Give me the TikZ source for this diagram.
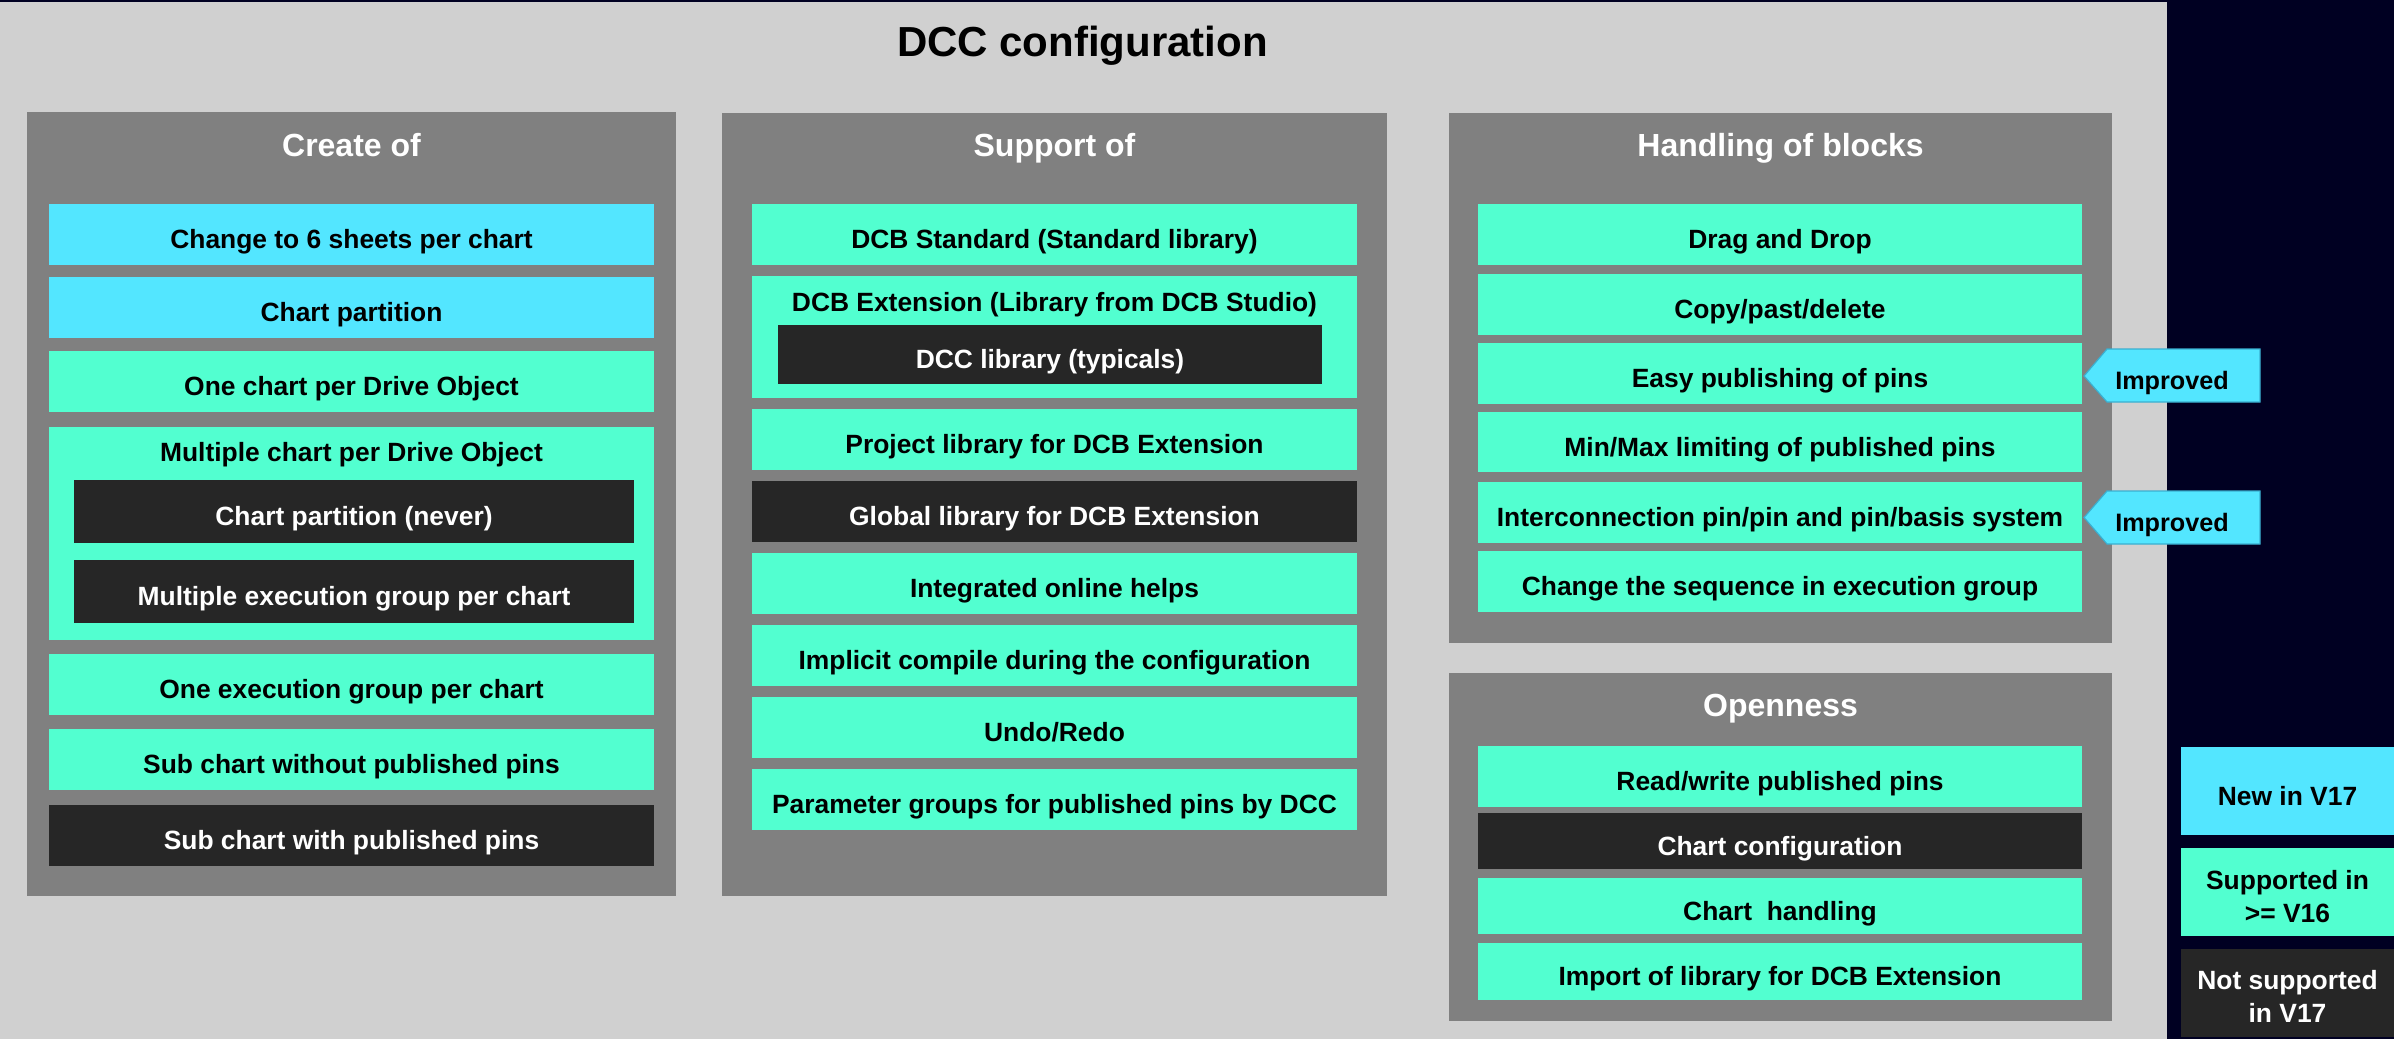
\documentclass[tikz,border=0pt]{standalone}
\usepackage{fontspec}
\setmainfont{Liberation Sans}
\definecolor{bgnavy}{RGB}{0,0,34}
\definecolor{bglight}{RGB}{208,208,208}
\definecolor{panelgray}{RGB}{128,128,128}
\definecolor{newcyan}{RGB}{83,230,255}
\definecolor{tagedge}{RGB}{58,175,208}
\definecolor{suppmint}{RGB}{82,255,208}
\definecolor{notdark}{RGB}{38,38,38}
\tikzset{
  itemfont/.style={font=\bfseries\fontsize{13.2}{16.25}\selectfont},
  box/.style={rectangle, draw=none, inner sep=0pt, outer sep=0pt, itemfont, text height=14pt, text depth=0pt},
  newbox/.style={box, fill=newcyan, text=black},
  suppbox/.style={box, fill=suppmint, text=black},
  notbox/.style={box, fill=notdark, text=white},
  panel/.style={rectangle, draw=none, inner sep=0pt, outer sep=0pt, fill=panelgray},
  paneltitle/.style={anchor=base, inner sep=0pt, text=white, font=\bfseries\fontsize{16}{19}\selectfont},
  subtitle/.style={anchor=base, inner sep=0pt, itemfont},
  legendtext/.style={anchor=base, inner sep=0pt, itemfont},
  tagshape/.style={fill=newcyan, draw=tagedge, line width=0.6pt},
  tagtext/.style={anchor=base, inner sep=0pt, text=black, font=\bfseries\fontsize{12.6}{15}\selectfont},
}
% name, x1, y1, x2, y2, style, text
\newcommand\bx[7]{\node[#6, minimum width={(#4-#2)*0.5pt}, minimum height={(#5-#3)*0.5pt}] (#1) at ({(#2+#4)/2},{(#3+#5)/2}) {#7};}
\begin{document}
\begin{tikzpicture}[x=0.5pt, y=-0.5pt]
\useasboundingbox (0,0) rectangle (2394,1039);
% background
\fill[bgnavy] (0,0) rectangle (2394,1039);
\fill[bglight] (0,2) rectangle (2167,1039);
\node[anchor=base, inner sep=0pt, font=\bfseries\fontsize{21}{25}\selectfont] (title) at (1082.5,56) {DCC configuration};

% ---------- Create of ----------
\bx{pcreate}{27}{112}{676}{896}{panel}{}
\node[paneltitle] (tcreate) at (351.5,156) {Create of};
\bx{c1}{49}{204}{654}{265}{newbox}{Change to 6 sheets per chart}
\bx{c2}{49}{277}{654}{338}{newbox}{Chart partition}
\bx{c3}{49}{351}{654}{412}{suppbox}{One chart per Drive Object}
\bx{c4}{49}{427}{654}{640}{suppbox}{}
\node[subtitle] (c4t) at (351.5,461) {Multiple chart per Drive Object};
\bx{c4a}{74}{480}{634}{543}{notbox}{Chart partition (never)}
\bx{c4b}{74}{560}{634}{623}{notbox}{Multiple execution group per chart}
\bx{c5}{49}{654}{654}{715}{suppbox}{One execution group per chart}
\bx{c6}{49}{729}{654}{790}{suppbox}{Sub chart without published pins}
\bx{c7}{49}{805}{654}{866}{notbox}{Sub chart with published pins}

% ---------- Support of ----------
\bx{psupport}{722}{113}{1387}{896}{panel}{}
\node[paneltitle] (tsupport) at (1054.5,156.5) {Support of};
\bx{s1}{752}{204}{1357}{265}{suppbox}{DCB Standard (Standard library)}
\bx{s2}{752}{276}{1357}{398}{suppbox}{}
\node[subtitle] (s2t) at (1054.5,311) {DCB Extension (Library from DCB Studio)};
\bx{s2a}{778}{325}{1322}{384}{notbox}{DCC library (typicals)}
\bx{s3}{752}{409}{1357}{470}{suppbox}{Project library for DCB Extension}
\bx{s4}{752}{481}{1357}{542}{notbox}{Global library for DCB Extension}
\bx{s5}{752}{553}{1357}{614}{suppbox}{Integrated online helps}
\bx{s6}{752}{625}{1357}{686}{suppbox}{Implicit compile during the configuration}
\bx{s7}{752}{697}{1357}{758}{suppbox}{Undo/Redo}
\bx{s8}{752}{769}{1357}{830}{suppbox}{Parameter groups for published pins by DCC}

% ---------- Handling of blocks ----------
\bx{phandling}{1449}{113}{2112}{643}{panel}{}
\node[paneltitle] (thandling) at (1780.5,156.5) {Handling of blocks};
\bx{h1}{1478}{204}{2082}{265}{suppbox}{Drag and Drop}
\bx{h2}{1478}{274}{2082}{335}{suppbox}{Copy/past/delete}
\bx{h3}{1478}{343}{2082}{404}{suppbox}{Easy publishing of pins}
\bx{h4}{1478}{412}{2082}{472}{suppbox}{Min/Max limiting of published pins}
\bx{h5}{1478}{482}{2082}{543}{suppbox}{Interconnection pin/pin and pin/basis system}
\bx{h6}{1478}{551}{2082}{612}{suppbox}{Change the sequence in execution group}

% ---------- Openness ----------
\bx{popen}{1449}{673}{2112}{1021}{panel}{}
\node[paneltitle] (topen) at (1780.5,716.5) {Openness};
\bx{o1}{1478}{746}{2082}{807}{suppbox}{Read/write published pins}
\bx{o2}{1478}{813}{2082}{869}{notbox}{Chart configuration}
\bx{o3}{1478}{878}{2082}{934}{suppbox}{Chart\ \ handling}
\bx{o4}{1478}{943}{2082}{1000}{suppbox}{Import of library for DCB Extension}

% ---------- Improved tags ----------
\draw[tagshape] (2084,376) -- (2107,349) -- (2260,349) -- (2260,402) -- (2107,402) -- cycle;
\node[tagtext] (tag1) at (2172,389.5) {Improved};
\draw[tagshape] (2084,517.5) -- (2107,491) -- (2260,491) -- (2260,544) -- (2107,544) -- cycle;
\node[tagtext] (tag2) at (2172,531) {Improved};

% ---------- Legend ----------
\bx{lnew}{2181}{747}{2394}{835}{newbox}{}
\node[legendtext, text=black] (lnewt) at (2287.5,805) {New in V17};
\bx{lsupp}{2181}{848}{2394}{936}{suppbox}{}
\node[legendtext, text=black] (lsuppa) at (2287.5,889) {Supported in};
\node[legendtext, text=black] (lsuppb) at (2287.5,922) {>= V16};
\bx{lnot}{2181}{949}{2394}{1037}{notbox}{}
\node[legendtext, text=white] (lnota) at (2287.5,989) {Not supported};
\node[legendtext, text=white] (lnotb) at (2287.5,1022) {in V17};
\end{tikzpicture}
\end{document}
